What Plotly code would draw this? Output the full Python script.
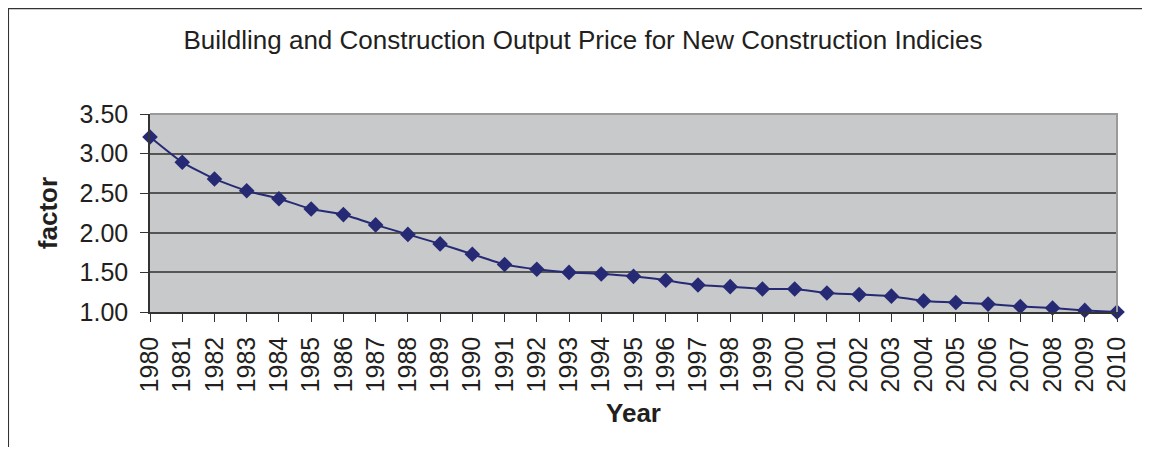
import plotly.graph_objects as go

YEARS = list(range(1980, 2011))
FACTOR = [3.21, 2.89, 2.68, 2.53, 2.43, 2.30, 2.23, 2.10, 1.98, 1.86,
          1.73, 1.60, 1.54, 1.50, 1.48, 1.45, 1.40, 1.34, 1.32, 1.29,
          1.29, 1.24, 1.22, 1.20, 1.14, 1.12, 1.10, 1.07, 1.05, 1.02, 1.00]
Y_TICKS = [1.0, 1.5, 2.0, 2.5, 3.0, 3.5]

TITLE = "Buildling and Construction Output Price for New Construction Indicies"
FONT = "Liberation Sans, Arial, sans-serif"
TEXT = "#231f20"
NAVY = "#262a75"
PLOT_BG = "#c8c9cb"

# the page adds an 8px body margin, so figure coords = screen coords - 8
L, R, T, B = 142, 23, 106, 135
W, H = 1134, 439
PW, PH = W - L - R, H - T - B

fig = go.Figure()
fig.add_trace(
    go.Scatter(
        x=YEARS,
        y=FACTOR,
        mode="lines+markers",
        line=dict(color=NAVY, width=2, shape="spline", smoothing=0.4),
        marker=dict(symbol="diamond", size=12, color=NAVY),
        cliponaxis=False,
        showlegend=False,
    )
)

# outer chart border: only the left and top edges are visible in the picture
fig.add_shape(
    type="path", xref="paper", yref="paper",
    path=f"M {-L / PW},{-(B + 20) / PH} L {-L / PW},{(PH + T - 0.5) / PH} "
         f"L {(W - L + 20) / PW},{(PH + T - 0.5) / PH}",
    line=dict(color="#333333", width=1.5),
    layer="below",
)
# light top / right frame of the plot area
fig.add_shape(
    type="path", xref="paper", yref="paper",
    path="M 0,1 L 1,1 L 1,0",
    line=dict(color="#9a9a9a", width=2),
)

fig.update_layout(
    width=W,
    height=H,
    margin=dict(l=L, r=R, t=T, b=B),
    paper_bgcolor="white",
    plot_bgcolor=PLOT_BG,
    title=dict(
        text=TITLE,
        x=575 / W,
        xanchor="center",
        y=1 - 32 / H,
        yanchor="middle",
        font=dict(family=FONT, size=26, color=TEXT),
    ),
    xaxis=dict(
        range=[1980, 2010],
        tickmode="array",
        tickvals=YEARS,
        ticktext=[str(y) for y in YEARS],
        tickangle=-90,
        tickfont=dict(family=FONT, size=25, color=TEXT),
        ticks="outside",
        ticklen=8,
        tickcolor="#333333",
        ticklabelstandoff=5,
        showgrid=False,
        zeroline=False,
        showline=True,
        linecolor="#333333",
        linewidth=1.5,
        title=dict(text="<b>Year</b>", font=dict(family=FONT, size=26, color=TEXT), standoff=12),
    ),
    yaxis=dict(
        range=[1.0, 3.5],
        tickmode="array",
        tickvals=Y_TICKS,
        ticktext=[f"{v:.2f}" for v in Y_TICKS],
        tickfont=dict(family=FONT, size=25, color=TEXT),
        ticks="outside",
        ticklen=8,
        tickcolor="#333333",
        ticklabelstandoff=7,
        showgrid=True,
        gridcolor="#555555",
        gridwidth=1.5,
        zeroline=False,
        showline=True,
        linecolor="#333333",
        linewidth=1.5,
        title=dict(text="<b>factor</b>", font=dict(family=FONT, size=26, color=TEXT), standoff=14),
    ),
)

fig.write_html("out.html")
